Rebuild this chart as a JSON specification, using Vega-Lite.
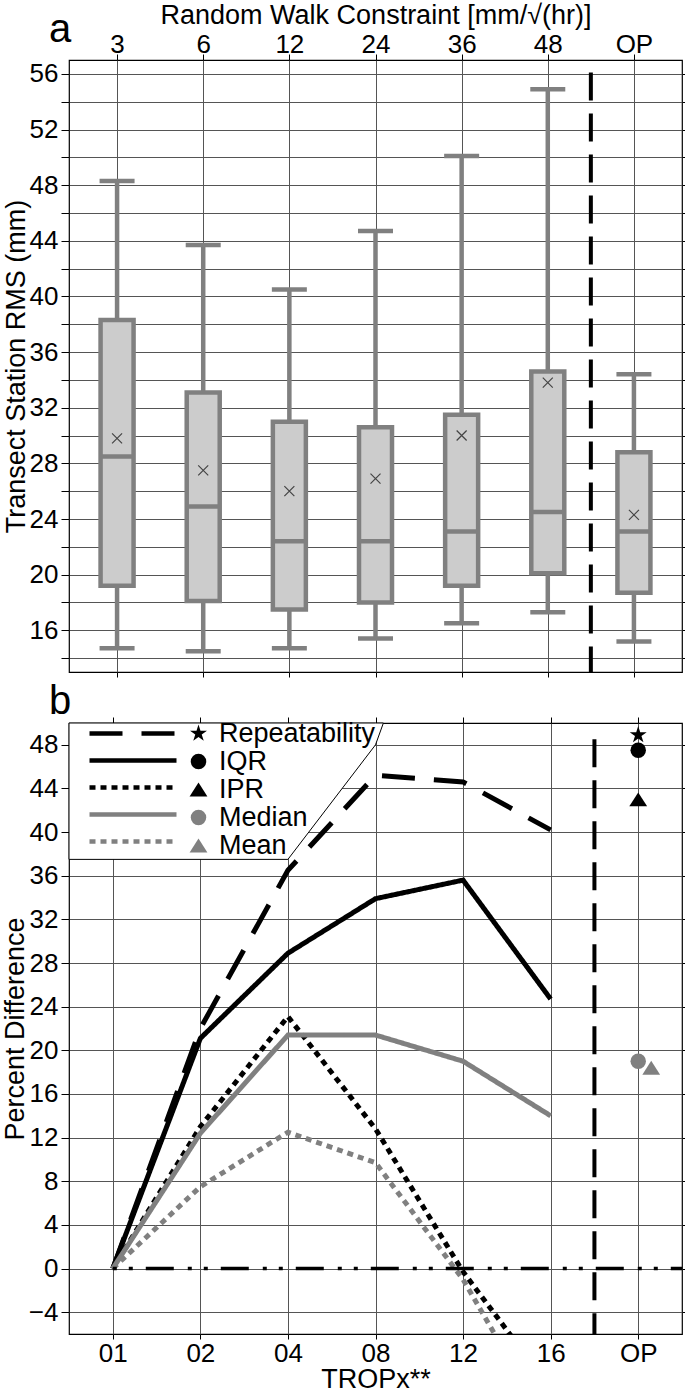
{
  "padding": {"left": 0, "top": 0, "right": 0, "bottom": 0},
  "spacing": 1,
  "config": {
    "font": "Liberation Sans",
    "view": {"stroke": "black", "strokeWidth": 1.2},
    "axis": {"domain": false, "labelFontSize": 26, "labelColor": "black", "titleFontSize": 27, "titleFontWeight": "normal", "titleColor": "black", "tickColor": "black", "tickWidth": 1, "gridColor": "#555555", "gridWidth": 1, "labelOverlap": false, "labelAngle": 0},
    "legend": {"labelColor": "black"}
  },
  "resolve": {
    "scale": {"stroke": "independent", "strokeDash": "independent", "shape": "independent", "fill": "independent"},
    "legend": {"stroke": "independent", "strokeDash": "independent", "shape": "independent", "fill": "independent"}
  },
  "datasets": {
    "boxes": [
      {"idx": 0, "constraint": "3", "lower": 14.7, "q1": 19.2, "median": 28.5, "q3": 38.3, "upper": 48.3, "mean": 29.8},
      {"idx": 1, "constraint": "6", "lower": 14.5, "q1": 18.1, "median": 24.9, "q3": 33.1, "upper": 43.7, "mean": 27.5},
      {"idx": 2, "constraint": "12", "lower": 14.7, "q1": 17.5, "median": 22.4, "q3": 31.0, "upper": 40.5, "mean": 26.0},
      {"idx": 3, "constraint": "24", "lower": 15.4, "q1": 18.0, "median": 22.4, "q3": 30.6, "upper": 44.7, "mean": 26.9},
      {"idx": 4, "constraint": "36", "lower": 16.5, "q1": 19.2, "median": 23.1, "q3": 31.5, "upper": 50.1, "mean": 30.0},
      {"idx": 5, "constraint": "48", "lower": 17.3, "q1": 20.1, "median": 24.5, "q3": 34.6, "upper": 54.9, "mean": 33.8},
      {"idx": 6, "constraint": "OP", "lower": 15.2, "q1": 18.7, "median": 23.1, "q3": 28.8, "upper": 34.4, "mean": 24.3}
    ],
    "lines": [
      {"idx": 0, "tropx": "01", "series": "Repeatability", "value": 0},
      {"idx": 1, "tropx": "02", "series": "Repeatability", "value": 22.0},
      {"idx": 2, "tropx": "04", "series": "Repeatability", "value": 36.5},
      {"idx": 3, "tropx": "08", "series": "Repeatability", "value": 45.2},
      {"idx": 4, "tropx": "12", "series": "Repeatability", "value": 44.6},
      {"idx": 5, "tropx": "16", "series": "Repeatability", "value": 40.2},
      {"idx": 0, "tropx": "01", "series": "IQR", "value": 0},
      {"idx": 1, "tropx": "02", "series": "IQR", "value": 21.1},
      {"idx": 2, "tropx": "04", "series": "IQR", "value": 28.9},
      {"idx": 3, "tropx": "08", "series": "IQR", "value": 33.9},
      {"idx": 4, "tropx": "12", "series": "IQR", "value": 35.6},
      {"idx": 5, "tropx": "16", "series": "IQR", "value": 24.7},
      {"idx": 0, "tropx": "01", "series": "IPR", "value": 0},
      {"idx": 1, "tropx": "02", "series": "IPR", "value": 13.0},
      {"idx": 2, "tropx": "04", "series": "IPR", "value": 23.1},
      {"idx": 3, "tropx": "08", "series": "IPR", "value": 12.8},
      {"idx": 4, "tropx": "12", "series": "IPR", "value": -0.3},
      {"idx": 5, "tropx": "16", "series": "IPR", "value": -11.0},
      {"idx": 0, "tropx": "01", "series": "Median", "value": 0},
      {"idx": 1, "tropx": "02", "series": "Median", "value": 12.4},
      {"idx": 2, "tropx": "04", "series": "Median", "value": 21.4},
      {"idx": 3, "tropx": "08", "series": "Median", "value": 21.4},
      {"idx": 4, "tropx": "12", "series": "Median", "value": 19.0},
      {"idx": 5, "tropx": "16", "series": "Median", "value": 14.0},
      {"idx": 0, "tropx": "01", "series": "Mean", "value": 0},
      {"idx": 1, "tropx": "02", "series": "Mean", "value": 7.5},
      {"idx": 2, "tropx": "04", "series": "Mean", "value": 12.5},
      {"idx": 3, "tropx": "08", "series": "Mean", "value": 9.7},
      {"idx": 4, "tropx": "12", "series": "Mean", "value": -1.0},
      {"idx": 5, "tropx": "16", "series": "Mean", "value": -14.9}
    ],
    "op": [
      {"idx": 6, "tropx": "OP", "measure": "Repeatability", "value": 48.9},
      {"idx": 6, "tropx": "OP", "measure": "IQR", "value": 47.5},
      {"idx": 6, "tropx": "OP", "measure": "IPR", "value": 43.0},
      {"idx": 6, "tropx": "OP", "measure": "Median", "value": 19.0}
    ],
    "opMean": [
      {"idx": 6, "tropx": "OP", "measure": "Mean", "value": 18.4}
    ],
    "legendFrame": [
      {"fx": -0.5, "fy": 37.5},
      {"fx": 2.0, "fy": 37.5},
      {"fx": 3.0, "fy": 48.0},
      {"fx": 3.09, "fy": 50.0}
    ]
  },
  "vconcat": [
    {
      "width": 613,
      "height": 612,
      "title": {"text": "a", "fontSize": 40, "fontWeight": "normal", "anchor": "start", "frame": "group", "dx": -20, "offset": -81, "baseline": "alphabetic", "color": "black"},
      "data": {"name": "boxes"},
      "layer": [
        {
          "mark": {"type": "rule", "color": "#808080", "strokeWidth": 4.5},
          "encoding": {
            "x": {"field": "idx", "type": "quantitative", "scale": {"domain": [-0.5, 6.5], "nice": false, "zero": false},
              "axis": {"orient": "top", "values": [0, 1, 2, 3, 4, 5, 6], "labelExpr": "['3','6','12','24','36','48','OP'][datum.value]", "title": "Random Walk Constraint [mm/√(hr)]", "grid": true, "tickSize": 6, "labelPadding": -3, "titlePadding": 2}},
            "y": {"field": "lower", "type": "quantitative", "scale": {"domain": [13, 57], "nice": false, "zero": false},
              "axis": {"orient": "left", "values": [14, 16, 18, 20, 22, 24, 26, 28, 30, 32, 34, 36, 38, 40, 42, 44, 46, 48, 50, 52, 54, 56], "labelExpr": "['','16','','20','','24','','28','','32','','36','','40','','44','','48','','52','','56'][(datum.value - 14) / 2]", "title": "Transect Station RMS (mm)", "grid": true, "tickSize": 8, "labelPadding": 3, "titlePadding": -1}},
            "y2": {"field": "upper"}
          }
        },
        {
          "mark": {"type": "bar", "fill": "#cccccc", "stroke": "#808080", "strokeWidth": 4.5, "size": 33},
          "encoding": {
            "x": {"field": "idx", "type": "quantitative", "scale": {"domain": [-0.5, 6.5], "nice": false, "zero": false},
              "axis": {"orient": "bottom", "values": [0, 1, 2, 3, 4, 5, 6], "labels": false, "tickSize": 5, "grid": false, "title": null}},
            "y": {"field": "q1", "type": "quantitative", "scale": {"domain": [13, 57], "nice": false, "zero": false},
              "axis": {"orient": "right", "values": [14, 16, 18, 20, 22, 24, 26, 28, 30, 32, 34, 36, 38, 40, 42, 44, 46, 48, 50, 52, 54, 56], "labels": false, "tickSize": 5, "grid": false, "title": null}},
            "y2": {"field": "q3"}
          }
        },
        {
          "mark": {"type": "tick", "orient": "horizontal", "color": "#808080", "size": 35, "thickness": 4.5, "opacity": 1},
          "encoding": {
            "x": {"field": "idx", "type": "quantitative", "scale": {"domain": [-0.5, 6.5], "nice": false, "zero": false}, "axis": null},
            "y": {"field": "lower", "type": "quantitative", "scale": {"domain": [13, 57], "nice": false, "zero": false}, "axis": null}
          }
        },
        {
          "mark": {"type": "tick", "orient": "horizontal", "color": "#808080", "size": 35, "thickness": 4.5, "opacity": 1},
          "encoding": {
            "x": {"field": "idx", "type": "quantitative", "scale": {"domain": [-0.5, 6.5], "nice": false, "zero": false}, "axis": null},
            "y": {"field": "upper", "type": "quantitative", "scale": {"domain": [13, 57], "nice": false, "zero": false}, "axis": null}
          }
        },
        {
          "mark": {"type": "tick", "orient": "horizontal", "color": "#808080", "size": 34, "thickness": 4.5, "opacity": 1},
          "encoding": {
            "x": {"field": "idx", "type": "quantitative", "scale": {"domain": [-0.5, 6.5], "nice": false, "zero": false}, "axis": null},
            "y": {"field": "median", "type": "quantitative", "scale": {"domain": [13, 57], "nice": false, "zero": false}, "axis": null}
          }
        },
        {
          "mark": {"type": "point", "shape": "M-1,-1L1,1M-1,1L1,-1", "size": 100, "filled": false, "stroke": "#444444", "strokeWidth": 1.2, "opacity": 1},
          "encoding": {
            "x": {"field": "idx", "type": "quantitative", "scale": {"domain": [-0.5, 6.5], "nice": false, "zero": false}, "axis": null},
            "y": {"field": "mean", "type": "quantitative", "scale": {"domain": [13, 57], "nice": false, "zero": false}, "axis": null}
          }
        },
        {
          "data": {"values": [{"boundary": "48|OP"}]},
          "mark": {"type": "rule", "color": "black", "strokeWidth": 4, "strokeDash": [28, 13]},
          "encoding": {
            "x": {"datum": 5.5, "type": "quantitative", "scale": {"domain": [-0.5, 6.5], "nice": false, "zero": false}, "axis": null},
            "y": {"datum": 56.1, "type": "quantitative", "scale": {"domain": [13, 57], "nice": false, "zero": false}, "axis": null},
            "y2": {"datum": 13}
          }
        }
      ],
      "resolve": {"axis": {"x": "independent", "y": "independent"}}
    },
    {
      "width": 613,
      "height": 611,
      "title": {"text": "b", "fontSize": 40, "fontWeight": "normal", "anchor": "start", "frame": "group", "dx": -20, "offset": -37, "baseline": "alphabetic", "color": "black"},
      "layer": [
        {
          "data": {"name": "legendFrame"},
          "mark": {"type": "area", "fill": "white", "fillOpacity": 1, "stroke": "black", "strokeWidth": 1},
          "encoding": {
            "x": {"field": "fx", "type": "quantitative", "scale": {"domain": [-0.5, 6.5], "nice": false, "zero": false},
              "axis": {"orient": "bottom", "values": [0, 1, 2, 3, 4, 5, 6], "labelExpr": "['01','02','04','08','12','16','OP'][datum.value]", "title": "TROPx**", "grid": true, "tickSize": 5, "labelPadding": 1, "titlePadding": 0}},
            "y": {"field": "fy", "type": "quantitative", "scale": {"domain": [-6, 50], "nice": false, "zero": false},
              "axis": {"orient": "left", "values": [-4, 0, 4, 8, 12, 16, 20, 24, 28, 32, 36, 40, 44, 48], "title": "Percent Difference", "grid": true, "tickSize": 8, "labelPadding": 3, "titlePadding": -1}},
            "y2": {"datum": 50}
          }
        },
        {
          "data": {"name": "lines"},
          "mark": {"type": "line", "clip": true, "strokeCap": "butt", "strokeWidth": 5},
          "encoding": {
            "x": {"field": "idx", "type": "quantitative", "scale": {"domain": [-0.5, 6.5], "nice": false, "zero": false},
              "axis": {"orient": "top", "values": [0, 1, 2, 3, 4, 5, 6], "labels": false, "tickSize": 6, "grid": false, "title": null}},
            "y": {"field": "value", "type": "quantitative", "scale": {"domain": [-6, 50], "nice": false, "zero": false},
              "axis": {"orient": "right", "values": [-4, 0, 4, 8, 12, 16, 20, 24, 28, 32, 36, 40, 44, 48], "labels": false, "tickSize": 5, "grid": false, "title": null}},
            "stroke": {"field": "series", "type": "nominal",
              "scale": {"domain": ["IQR", "Repeatability", "IPR", "Median", "Mean"], "range": ["black", "black", "black", "#808080", "#808080"]},
              "legend": {"values": ["Repeatability", "IQR", "IPR", "Median", "Mean"], "orient": "none", "legendX": 18, "legendY": -3, "direction": "vertical", "title": null, "symbolType": "stroke", "symbolSize": 7569, "symbolStrokeWidth": 4.5, "clipHeight": 27, "rowPadding": 0, "padding": 0, "labelExpr": "''", "labelFontSize": 1}},
            "strokeDash": {"field": "series", "type": "nominal",
              "scale": {"domain": ["IQR", "Repeatability", "IPR", "Median", "Mean"], "range": [[1, 0], [33, 19], [6, 5], [1, 0], [6, 5]]},
              "legend": {"values": ["Repeatability", "IQR", "IPR", "Median", "Mean"], "orient": "none", "legendX": 18, "legendY": -3, "direction": "vertical", "title": null, "symbolType": "stroke", "symbolSize": 7569, "symbolStrokeWidth": 4.5, "clipHeight": 27, "rowPadding": 0, "padding": 0, "labelExpr": "''", "labelFontSize": 1}}
          }
        },
        {
          "data": {"values": [{"reference": "zero"}]},
          "mark": {"type": "rule", "color": "black", "strokeWidth": 3.5, "strokeDash": [4, 12, 4, 13, 28, 14]},
          "encoding": {
            "x": {"datum": 0, "type": "quantitative", "scale": {"domain": [-0.5, 6.5], "nice": false, "zero": false}, "axis": null},
            "x2": {"datum": 6.5},
            "y": {"datum": 0, "type": "quantitative", "scale": {"domain": [-6, 50], "nice": false, "zero": false}, "axis": null}
          }
        },
        {
          "data": {"values": [{"boundary": "16|OP"}]},
          "mark": {"type": "rule", "color": "black", "strokeWidth": 4, "strokeDash": [28, 13]},
          "encoding": {
            "x": {"datum": 5.5, "type": "quantitative", "scale": {"domain": [-0.5, 6.5], "nice": false, "zero": false}, "axis": null},
            "y": {"datum": 48.5, "type": "quantitative", "scale": {"domain": [-6, 50], "nice": false, "zero": false}, "axis": null},
            "y2": {"datum": -6}
          }
        },
        {
          "data": {"name": "op"},
          "mark": {"type": "point", "filled": true, "opacity": 1, "size": 240},
          "encoding": {
            "x": {"field": "idx", "type": "quantitative", "scale": {"domain": [-0.5, 6.5], "nice": false, "zero": false}, "axis": null},
            "y": {"field": "value", "type": "quantitative", "scale": {"domain": [-6, 50], "nice": false, "zero": false}, "axis": null},
            "shape": {"field": "measure", "type": "nominal",
              "scale": {"domain": ["Repeatability", "IQR", "IPR", "Median", "Mean"], "range": ["M0,-1.15L0.258,-0.355L1.094,-0.355L0.417,0.136L0.676,0.93L0,0.439L-0.676,0.93L-0.417,0.136L-1.094,-0.355L-0.258,-0.355Z", "circle", "M0,-0.9L1.15,0.9L-1.15,0.9Z", "circle", "M0,-0.9L1.15,0.9L-1.15,0.9Z"]},
              "legend": {"orient": "none", "legendX": 116, "legendY": -3, "direction": "vertical", "title": null, "symbolSize": 240, "clipHeight": 27, "rowPadding": 0, "padding": 0, "labelFontSize": 27, "labelOffset": 7, "labelColor": "black", "labelLimit": 400}},
            "fill": {"field": "measure", "type": "nominal",
              "scale": {"domain": ["Repeatability", "IQR", "IPR", "Median", "Mean"], "range": ["black", "black", "black", "#808080", "#808080"]},
              "legend": {"orient": "none", "legendX": 116, "legendY": -3, "direction": "vertical", "title": null, "symbolSize": 240, "clipHeight": 27, "rowPadding": 0, "padding": 0, "labelFontSize": 27, "labelOffset": 7, "labelColor": "black", "labelLimit": 400}}
          }
        },
        {
          "data": {"name": "opMean"},
          "mark": {"type": "point", "filled": true, "opacity": 1, "size": 240, "xOffset": 13},
          "encoding": {
            "x": {"field": "idx", "type": "quantitative", "scale": {"domain": [-0.5, 6.5], "nice": false, "zero": false}, "axis": null},
            "y": {"field": "value", "type": "quantitative", "scale": {"domain": [-6, 50], "nice": false, "zero": false}, "axis": null},
            "shape": {"field": "measure", "type": "nominal", "scale": {"domain": ["Repeatability", "IQR", "IPR", "Median", "Mean"], "range": ["M0,-1.15L0.258,-0.355L1.094,-0.355L0.417,0.136L0.676,0.93L0,0.439L-0.676,0.93L-0.417,0.136L-1.094,-0.355L-0.258,-0.355Z", "circle", "M0,-0.9L1.15,0.9L-1.15,0.9Z", "circle", "M0,-0.9L1.15,0.9L-1.15,0.9Z"]}},
            "fill": {"field": "measure", "type": "nominal", "scale": {"domain": ["Repeatability", "IQR", "IPR", "Median", "Mean"], "range": ["black", "black", "black", "#808080", "#808080"]}}
          }
        }
      ],
      "resolve": {"axis": {"x": "independent", "y": "independent"}}
    }
  ]
}
